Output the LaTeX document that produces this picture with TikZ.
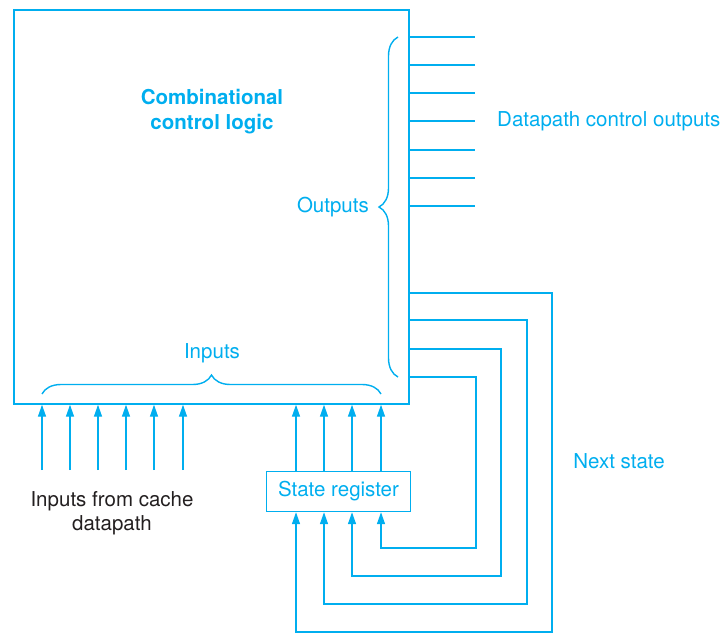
\documentclass[tikz,border=0pt]{standalone}
\usepackage{fontspec}
\setmainfont{TeX Gyre Heros}
\usepackage{tikz}
\usetikzlibrary{positioning,arrows.meta,decorations.pathreplacing}
\definecolor{ctrlcyan}{RGB}{0,174,239}
\definecolor{inkgray}{RGB}{35,31,32}

\begin{document}
\begin{tikzpicture}[x=1pt, y=-1pt,
    wire/.style={ctrlcyan, line width=1.4pt},
    arr/.style={wire, -{Triangle[length=12pt,width=8pt]}},
    brc/.style={wire, decorate, decoration={brace, amplitude=19pt}},
    lbl/.style={text=ctrlcyan, font=\fontsize{20.5}{24.5}\selectfont, inner sep=0pt},
    blk/.style={draw=ctrlcyan, line width=1.4pt, inner sep=0pt}
  ]
    \useasboundingbox (0,0) rectangle (725,633);
    \node[blk, minimum width=395pt, minimum height=394pt] (logic) at (211.5,207) {};
    \node[lbl, font=\fontsize{20.5}{25}\selectfont\bfseries, align=center] (title) at (212,112) {Combinational\\control logic};
    \node[blk, lbl, minimum width=144pt, minimum height=40pt] (sreg) at (338.5,491.5) {State register};
    \coordinate (dout) at (475,121);
    \coordinate (cache) at (112,470);

    % outputs to the datapath
    \foreach \y in {37,65,93,121,150,178,206}
      \draw[wire] (logic.east |- 0,\y) -- (dout |- 0,\y);
    \node[lbl, anchor=west] (dlabel) at (497,121) {Datapath control outputs};

    % next state loops back to the register
    \foreach \y/\x/\b/\r in {293/552/632/296, 320/527/604/324, 349/501/576/352, 377/476/548/381}
      \draw[arr] (logic.east |- 0,\y) -| (\x,\b) -| (\r,0 |- sreg.south);
    \node[lbl] (nstate) at (619,461) {Next state};

    % register and cache inputs
    \foreach \r in {296,324,352,381}
      \draw[arr] (\r,0 |- sreg.north) -- (\r,0 |- logic.south);
    \foreach \x in {42,70,98,126,154,183}
      \draw[arr] (\x,0 |- cache) -- (\x,0 |- logic.south);
    \node[lbl, text=inkgray, font=\fontsize{20.5}{24}\selectfont, align=center] (clabel) at (112,513) {Inputs from cache\\datapath};

    % braces
    \draw[brc] (42,394) -- (381,394);
    \node[lbl] (ilabel) at (212,353) {Inputs};
    \draw[brc] (398,377) -- (398,37);
    \node[lbl, anchor=east] (olabel) at (369,207) {Outputs};
  \end{tikzpicture}
\end{document}
